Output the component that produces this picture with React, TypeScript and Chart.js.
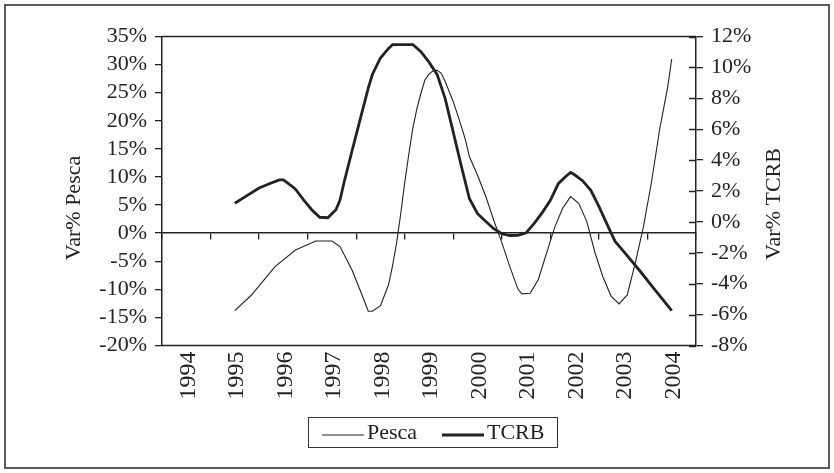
import React, { useEffect, useRef } from "react";
import { Chart, registerables } from "chart.js";

Chart.register(...registerables);

const FONT_FAMILY = "'Liberation Serif', 'Times New Roman', serif";
const INK = "#222";

// Category labels along the bottom (one slot per year)
const yearLabels = ["1994", "1995", "1996", "1997", "1998", "1999", "2000", "2001", "2002", "2003", "2004"];

// Month offsets counted from January 1995 (0 = Jan 1995, 108 = Jan 2004)
const pescaMonths = [0, 4, 10, 15, 20, 24, 26, 29, 31, 33, 34, 36, 38, 39, 40, 41, 42, 43, 44, 45, 46, 47, 48, 49, 50, 51, 52, 54, 56, 57, 58, 60, 62, 64, 66, 68, 70, 71, 73, 75, 77, 79, 81, 83, 85, 87, 89, 91, 93, 95, 97, 99, 101, 103, 105, 107, 108];
// Var% Pesca (left axis, %)
const pescaValues = [-13.8, -11.1, -5.9, -3.0, -1.4, -1.4, -2.4, -6.6, -10.2, -13.9, -13.9, -12.9, -9.2, -5.8, -1.7, 3.4, 9.0, 14.0, 18.7, 22.1, 24.9, 27.3, 28.3, 28.9, 29.0, 28.5, 27.0, 23.4, 19.0, 16.6, 13.6, 10.3, 6.6, 2.3, -1.7, -6.0, -10.0, -10.8, -10.7, -8.3, -3.7, 0.9, 4.4, 6.5, 5.3, 2.1, -3.4, -7.8, -11.2, -12.6, -11.0, -5.3, 1.1, 9.1, 18.4, 26.0, 31.0];

const tcrbMonths = [0, 3, 6, 9, 11, 12, 14, 15, 17, 19, 21, 23, 25, 26, 27, 29, 31, 33, 34, 36, 38, 39, 44, 46, 48, 50, 52, 54, 56, 58, 60, 62, 64, 66, 68, 70, 72, 74, 76, 78, 80, 82, 83, 84, 86, 88, 90, 92, 94, 96, 100, 104, 108];
// Var% TCRB (right axis, %)
const tcrbValues = [1.21, 1.7, 2.19, 2.52, 2.72, 2.72, 2.33, 2.12, 1.42, 0.79, 0.3, 0.27, 0.79, 1.42, 2.55, 4.62, 6.65, 8.68, 9.54, 10.61, 11.23, 11.48, 11.48, 11.02, 10.34, 9.55, 7.98, 5.79, 3.6, 1.5, 0.53, 0.04, -0.44, -0.77, -0.88, -0.87, -0.71, -0.1, 0.6, 1.4, 2.49, 2.99, 3.2, 3.05, 2.65, 2.04, 1.01, -0.14, -1.26, -1.88, -3.13, -4.45, -5.75];

const leftTitle = "Var% Pesca";
const rightTitle = "Var% TCRB";

// Month axis spans mid-1993 to mid-2004, so each year label sits in a 12-month slot
const MONTH_MIN = -18;
const MONTH_MAX = 114;
const slotEdges: number[] = [];
for (let m = MONTH_MIN; m <= MONTH_MAX; m += 12) slotEdges.push(m);

const font = { family: FONT_FAMILY, size: 22 };
const yearFont = { family: FONT_FAMILY, size: 24 };

const decorPlugin = {
  id: "decor",
  beforeDraw(chart: any) {
    const { ctx, width, height } = chart;
    ctx.save();
    ctx.fillStyle = "#fff";
    ctx.fillRect(0, 0, width, height);
    ctx.strokeStyle = "#5a5a5a";
    ctx.lineWidth = 2;
    ctx.strokeRect(5, 5, width - 10, height - 10);
    ctx.restore();
  },
  afterDraw(chart: any) {
    const { ctx, chartArea: a } = chart;
    ctx.save();
    ctx.strokeStyle = INK;
    ctx.lineWidth = 1.5;
    // top and bottom edges of the plot frame
    ctx.beginPath();
    ctx.moveTo(a.left, a.top);
    ctx.lineTo(a.right, a.top);
    ctx.moveTo(a.left, a.bottom);
    ctx.lineTo(a.right, a.bottom);
    ctx.stroke();

    // right-axis tick marks cross the axis line
    const y1 = chart.scales.y1;
    ctx.lineWidth = 1.3;
    ctx.beginPath();
    y1.ticks.forEach((t: any) => {
      const py = Math.round(y1.getPixelForValue(t.value)) + 0.5;
      ctx.moveTo(a.right - 7, py);
      ctx.lineTo(a.right, py);
    });
    ctx.stroke();

    // axis titles, both reading bottom-to-top
    ctx.fillStyle = INK;
    ctx.font = `22px ${FONT_FAMILY}`;
    ctx.textAlign = "center";
    ctx.textBaseline = "middle";
    ctx.save();
    ctx.translate(a.left - 88, 208);
    ctx.rotate(-Math.PI / 2);
    ctx.fillText(leftTitle, 0, 0);
    ctx.restore();
    ctx.save();
    ctx.translate(a.right + 78, 204);
    ctx.rotate(-Math.PI / 2);
    ctx.fillText(rightTitle, 0, 0);
    ctx.restore();

    // legend box
    const boxX = 308, boxY = 417, boxW = 249, boxH = 30;
    ctx.strokeStyle = "#333";
    ctx.lineWidth = 1;
    ctx.strokeRect(boxX + 0.5, boxY + 0.5, boxW, boxH);
    const sampleStarts = [322, 442];
    const ds = chart.data.datasets;
    ctx.textAlign = "left";
    ctx.textBaseline = "middle";
    ds.forEach((d: any, i: number) => {
      const sx = sampleStarts[i];
      const sy = boxY + 18;
      ctx.strokeStyle = d.borderColor;
      ctx.lineWidth = d.borderWidth;
      ctx.beginPath();
      ctx.moveTo(sx, sy);
      ctx.lineTo(sx + 42, sy);
      ctx.stroke();
      ctx.fillStyle = INK;
      ctx.fillText(d.label, sx + 45, boxY + 16);
    });
    ctx.restore();
  },
};

export default function App() {
  const canvasRef = useRef<HTMLCanvasElement | null>(null);

  useEffect(() => {
    const canvas = canvasRef.current;
    if (!canvas) return;
    const chart = new Chart(canvas, {
      type: "line",
      data: {
        datasets: [
          {
            label: "Pesca",
            data: pescaMonths.map((m, i) => ({ x: m, y: pescaValues[i] })),
            xAxisID: "x",
            yAxisID: "y",
            borderColor: INK,
            borderWidth: 1.1,
            pointRadius: 0,
            tension: 0,
            fill: false,
          },
          {
            label: "TCRB",
            data: tcrbMonths.map((m, i) => ({ x: m, y: tcrbValues[i] })),
            xAxisID: "x",
            yAxisID: "y1",
            borderColor: INK,
            borderWidth: 2.8,
            pointRadius: 0,
            tension: 0,
            fill: false,
          },
        ],
      },
      options: {
        responsive: false,
        animation: false,
        devicePixelRatio: 1,
        layout: { padding: { top: 36.5, left: 0, right: 0, bottom: 0 } },
        plugins: { legend: { display: false }, tooltip: { enabled: false } },
        scales: {
          x: {
            type: "linear",
            position: { y: 0 } as any,
            min: MONTH_MIN,
            max: MONTH_MAX,
            afterBuildTicks: (s: any) => {
              s.ticks = slotEdges.map((v) => ({ value: v }));
            },
            ticks: { display: false },
            grid: { drawOnChartArea: false, drawTicks: true, tickLength: 6, color: INK, lineWidth: 1.3 },
            border: { display: true, color: INK, width: 1.5 },
          },
          xLabel: {
            type: "category",
            labels: yearLabels,
            offset: true,
            position: "bottom",
            grid: { display: false, drawTicks: false },
            border: { display: false },
            ticks: {
              font: yearFont,
              color: INK,
              minRotation: 90,
              maxRotation: 90,
              autoSkip: false,
              padding: 6,
              labelOffset: 2,
            },
            afterFit: (s: any) => {
              s.height = 127.5;
            },
          },
          y: {
            position: "left",
            min: -20,
            max: 35,
            ticks: { stepSize: 5, autoSkip: false, font, color: INK, padding: 8, callback: (v: any) => `${v}%` },
            grid: { drawOnChartArea: false, tickLength: 7, color: INK, lineWidth: 1.3 },
            border: { color: INK, width: 1.5 },
            afterFit: (s: any) => {
              s.width = 162;
            },
          },
          y1: {
            position: "right",
            min: -8,
            max: 12,
            ticks: { stepSize: 2, autoSkip: false, font, color: INK, padding: 8, callback: (v: any) => `${v}%` },
            grid: { drawOnChartArea: false, tickLength: 7, color: INK, lineWidth: 1.3 },
            border: { color: INK, width: 1.5 },
            afterFit: (s: any) => {
              s.width = 138;
            },
          },
        },
      },
      plugins: [decorPlugin],
    });
    return () => chart.destroy();
  }, []);

  return (
    <div style={{ position: "absolute", left: 0, top: 0, width: 834, height: 473, background: "#fff" }}>
      <canvas ref={canvasRef} width={834} height={473} style={{ display: "block" }} />
    </div>
  );
}
